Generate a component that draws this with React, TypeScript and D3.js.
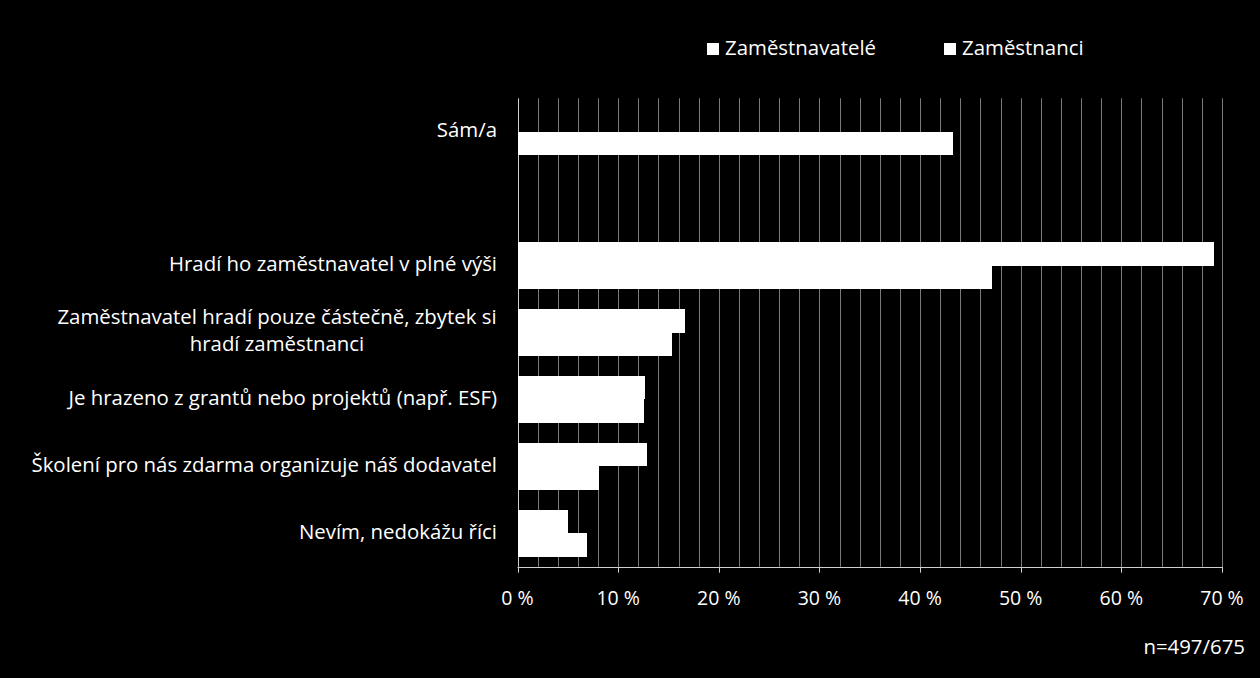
import React from "react";
import * as d3 from "d3";

const categories = [
  "Sám/a",
  "",
  "Hradí ho zaměstnavatel v plné výši",
  "Zaměstnavatel hradí pouze částečně, zbytek si|hradí zaměstnanci",
  "Je hrazeno z grantů nebo projektů (např. ESF)",
  "Školení pro nás zdarma organizuje náš dodavatel",
  "Nevím, nedokážu říci",
];
const seriesNames = ["Zaměstnavatelé", "Zaměstnanci"];
const employers: (number | null)[] = [null, null, 69.2, 16.6, 12.7, 12.9, 5.0];
const employees: (number | null)[] = [43.3, null, 47.1, 15.4, 12.6, 8.1, 6.9];
const xTicks = [0, 10, 20, 30, 40, 50, 60, 70];
const note = "n=497/675";

const W = 1260;
const H = 678;
const FONT = "'Open Sans', sans-serif";
const FS = 20.4;

export default function App() {
  const left = 517.5;
  const right = 1222;
  const top = 98.3;
  const bottom = 566.7;

  const x = d3.scaleLinear().domain([0, 70]).range([left, right]);
  const y = d3.scaleBand<string>().domain(categories.map((_, i) => String(i))).range([top, bottom]).paddingInner(0.3).paddingOuter(0.15);
  const yCat = d3.scaleBand<string>().domain(categories.map((_, i) => String(i))).range([top, bottom]);
  const sub = d3.scaleBand<string>().domain(["0", "1"]).range([0, y.bandwidth()]);

  const grid = d3.range(0, 70.001, 2);
  const seriesVals = [employers, employees];

  return (
    <svg width={W} height={H} style={{ position: "absolute", left: 0, top: 0, background: "#000" }}>
      <rect x={0} y={0} width={W} height={H} fill="#000" />
      {grid.map((g) => (
        <line key={g} x1={Math.round(x(g)) + 0.5} x2={Math.round(x(g)) + 0.5} y1={top} y2={bottom} stroke={g === 0 ? "#d0d0d0" : "#7a7a7a"} strokeWidth={1} />
      ))}
      {seriesVals.map((vals, s) =>
        vals.map((v, i) => {
          if (v == null) return null;
          const y0 = Math.round((y(String(i)) as number) + (sub(String(s)) as number));
          const y1 = Math.round((y(String(i)) as number) + (sub(String(s)) as number) + sub.bandwidth());
          return (
            <rect key={`${s}-${i}`} x={x(0)} y={y0} width={x(v) - x(0)} height={y1 - y0} fill="#ffffff" shapeRendering="crispEdges" />
          );
        })
      )}
      <line x1={left} x2={right} y1={Math.round(bottom) + 0.5} y2={Math.round(bottom) + 0.5} stroke="#d0d0d0" />
      {xTicks.map((t) => (
        <g key={t}>
          <line x1={Math.round(x(t)) + 0.5} x2={Math.round(x(t)) + 0.5} y1={bottom} y2={bottom + 6} stroke="#d0d0d0" />
          <text x={x(t)} y={600} textAnchor="middle" dominantBaseline="middle" fill="#fff" fontFamily={FONT} fontSize={19.5}>
            {`${t} %`}
          </text>
        </g>
      ))}
      {categories.map((c, i) => {
        if (!c) return null;
        const cy = (yCat(String(i)) as number) + yCat.bandwidth() / 2;
        const lines = c.split("|");
        if (lines.length === 1) {
          return (
            <text key={i} x={497} y={cy} textAnchor="end" dominantBaseline="middle" fill="#fff" fontFamily={FONT} fontSize={FS}>
              {c}
            </text>
          );
        }
        return (
          <text key={i} x={277} y={cy} textAnchor="middle" fill="#fff" fontFamily={FONT} fontSize={FS}>
            {lines.map((l, k) => (
              <tspan key={k} x={277} y={cy + (k - (lines.length - 1) / 2) * 27} dominantBaseline="middle">
                {l}
              </tspan>
            ))}
          </text>
        );
      })}
      {seriesNames.map((n, k) => {
        const lx = k === 0 ? 707 : 944;
        return (
          <g key={n}>
            <rect x={lx} y={43} width={12} height={12} fill="#fff" />
            <text x={lx + 18} y={50} dominantBaseline="middle" fill="#fff" fontFamily={FONT} fontSize={FS}>
              {n}
            </text>
          </g>
        );
      })}
      <text x={1245} y={649} textAnchor="end" dominantBaseline="middle" fill="#fff" fontFamily={FONT} fontSize={FS}>
        {note}
      </text>
    </svg>
  );
}
